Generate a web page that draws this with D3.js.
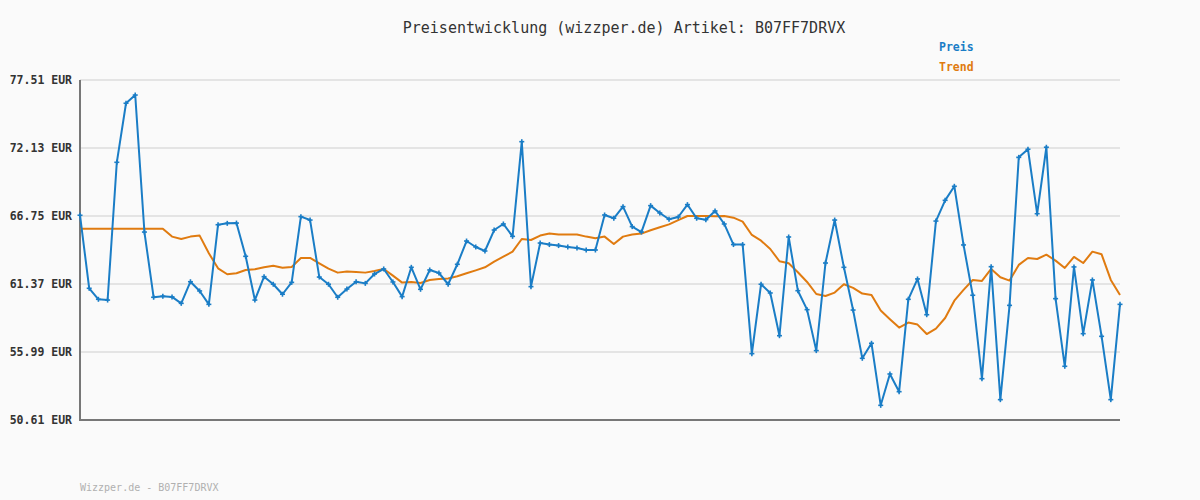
<!DOCTYPE html>
<html>
<head>
<meta charset="utf-8">
<script src="https://cdn.jsdelivr.net/npm/d3@7"></script>
<style>
  html, body { margin: 0; padding: 0; background: #fafafa; }
  svg { display: block; }
</style>
</head>
<body>
<svg id="chart" width="1200" height="500"></svg>
<script>
const title = "Preisentwicklung (wizzper.de) Artikel: B07FF7DRVX";
const footer = "Wizzper.de - B07FF7DRVX";
const seriesNames = ["Preis", "Trend"];
const yTicks = [50.61, 55.99, 61.37, 66.75, 72.13, 77.51];

const preis = [
  66.81, 61.03, 60.16, 60.10, 71.00, 75.67, 76.32, 65.48, 60.32, 60.40,
  60.35, 59.84, 61.55, 60.82, 59.76, 66.06, 66.17, 66.19, 63.56, 60.10,
  61.95, 61.35, 60.56, 61.50, 66.70, 66.43, 61.92, 61.35, 60.32, 60.97,
  61.55, 61.42, 62.16, 62.56, 61.53, 60.37, 62.69, 60.95, 62.48, 62.24,
  61.35, 62.93, 64.77, 64.30, 63.98, 65.64, 66.12, 65.14, 72.63, 61.16,
  64.61, 64.49, 64.41, 64.30, 64.22, 64.06, 64.06, 66.83, 66.57, 67.49,
  65.91, 65.48, 67.57, 66.99, 66.49, 66.67, 67.65, 66.57, 66.46, 67.15,
  66.12, 64.49, 64.49, 55.86, 61.35, 60.66, 57.28, 65.09, 60.84, 59.34,
  56.10, 63.03, 66.43, 62.69, 59.31, 55.49, 56.68, 51.77, 54.25, 52.85,
  60.16, 61.77, 58.94, 66.35, 67.99, 69.10, 64.46, 60.48, 53.88, 62.74,
  52.22, 59.68, 71.39, 72.03, 66.93, 72.19, 60.21, 54.86, 62.72, 57.44,
  61.69, 57.23, 52.22, 59.76
];

const trend = [
  65.75, 65.75, 65.75, 65.75, 65.75, 65.75, 65.75, 65.75, 65.75, 65.75,
  65.12, 64.93, 65.12, 65.20, 63.80, 62.61, 62.14, 62.22, 62.48, 62.53,
  62.69, 62.82, 62.66, 62.72, 63.43, 63.43, 63.01, 62.59, 62.27, 62.35,
  62.32, 62.27, 62.40, 62.56, 62.03, 61.48, 61.53, 61.45, 61.69, 61.77,
  61.80, 61.98, 62.22, 62.45, 62.69, 63.14, 63.53, 63.93, 64.93, 64.85,
  65.20, 65.36, 65.28, 65.28, 65.28, 65.12, 64.99, 65.12, 64.54, 65.12,
  65.28, 65.36, 65.62, 65.86, 66.09, 66.43, 66.75, 66.75, 66.75, 66.73,
  66.75, 66.62, 66.31, 65.25, 64.80, 64.14, 63.17, 63.01, 62.30, 61.53,
  60.58, 60.42, 60.69, 61.35, 61.06, 60.61, 60.50, 59.27, 58.58, 57.92,
  58.32, 58.16, 57.41, 57.84, 58.68, 60.05, 60.90, 61.69, 61.61, 62.56,
  61.90, 61.64, 62.88, 63.43, 63.35, 63.69, 63.22, 62.64, 63.51, 63.03,
  63.93, 63.72, 61.69, 60.50
];

const colors = { Preis: "#1a7dc6", Trend: "#e07b10" };
const font = "'DejaVu Sans Mono', 'Liberation Mono', monospace";

const svg = d3.select("#chart");
const m = { left: 80, right: 1120, top: 80, bottom: 420 };

const x = d3.scaleLinear().domain([0, preis.length - 1]).range([m.left, m.right]);
const y = d3.scaleLinear().domain([yTicks[0], yTicks[yTicks.length - 1]]).range([m.bottom, m.top]);

svg.append("rect").attr("width", 1200).attr("height", 500).attr("fill", "#fafafa");

// grid
svg.append("g").selectAll("line").data(yTicks).join("line")
  .attr("x1", m.left).attr("x2", m.right)
  .attr("y1", d => y(d)).attr("y2", d => y(d))
  .attr("stroke", "#e4e4e4").attr("stroke-width", 2);

// y axis labels
const yAxis = d3.axisLeft(y).tickValues(yTicks).tickSize(0).tickPadding(8)
  .tickFormat(d => d.toFixed(2) + " EUR");
const ga = svg.append("g").attr("transform", `translate(${m.left},0)`).call(yAxis);
ga.select(".domain").remove();
ga.selectAll("text").attr("font-family", font).attr("font-size", 11.5)
  .attr("font-weight", "bold").attr("fill", "#333");

// axes lines
svg.append("path")
  .attr("d", `M${m.left},${m.top}V${m.bottom}H${m.right}`)
  .attr("fill", "none").attr("stroke", "#777").attr("stroke-width", 2);

const line = d3.line().x((d, i) => x(i)).y(d => y(d));

svg.append("path").datum(trend).attr("d", line)
  .attr("fill", "none").attr("stroke", colors.Trend).attr("stroke-width", 2)
  .attr("stroke-linejoin", "round");

svg.append("path").datum(preis).attr("d", line)
  .attr("fill", "none").attr("stroke", colors.Preis).attr("stroke-width", 2)
  .attr("stroke-linejoin", "round");

// cross markers
const mk = svg.append("g").attr("stroke", colors.Preis).attr("stroke-width", 1.6);
preis.forEach((d, i) => {
  const cx = x(i), cy = y(d);
  mk.append("line").attr("x1", cx - 2.5).attr("x2", cx + 2.5).attr("y1", cy).attr("y2", cy);
  mk.append("line").attr("x1", cx).attr("x2", cx).attr("y1", cy - 2.5).attr("y2", cy + 2.5);
});

// title
svg.append("text").attr("x", 624).attr("y", 33).attr("text-anchor", "middle")
  .attr("font-family", font).attr("font-size", 15).attr("fill", "#333").text(title);

// legend
seriesNames.forEach((s, i) => {
  svg.append("text").attr("x", 939).attr("y", 51 + i * 20)
    .attr("font-family", font).attr("font-size", 11.5).attr("font-weight", "bold")
    .attr("fill", colors[s]).text(s);
});

// footer
svg.append("text").attr("x", 80).attr("y", 491)
  .attr("font-family", font).attr("font-size", 10).attr("fill", "#b0b0b0").text(footer);
</script>
</body>
</html>
